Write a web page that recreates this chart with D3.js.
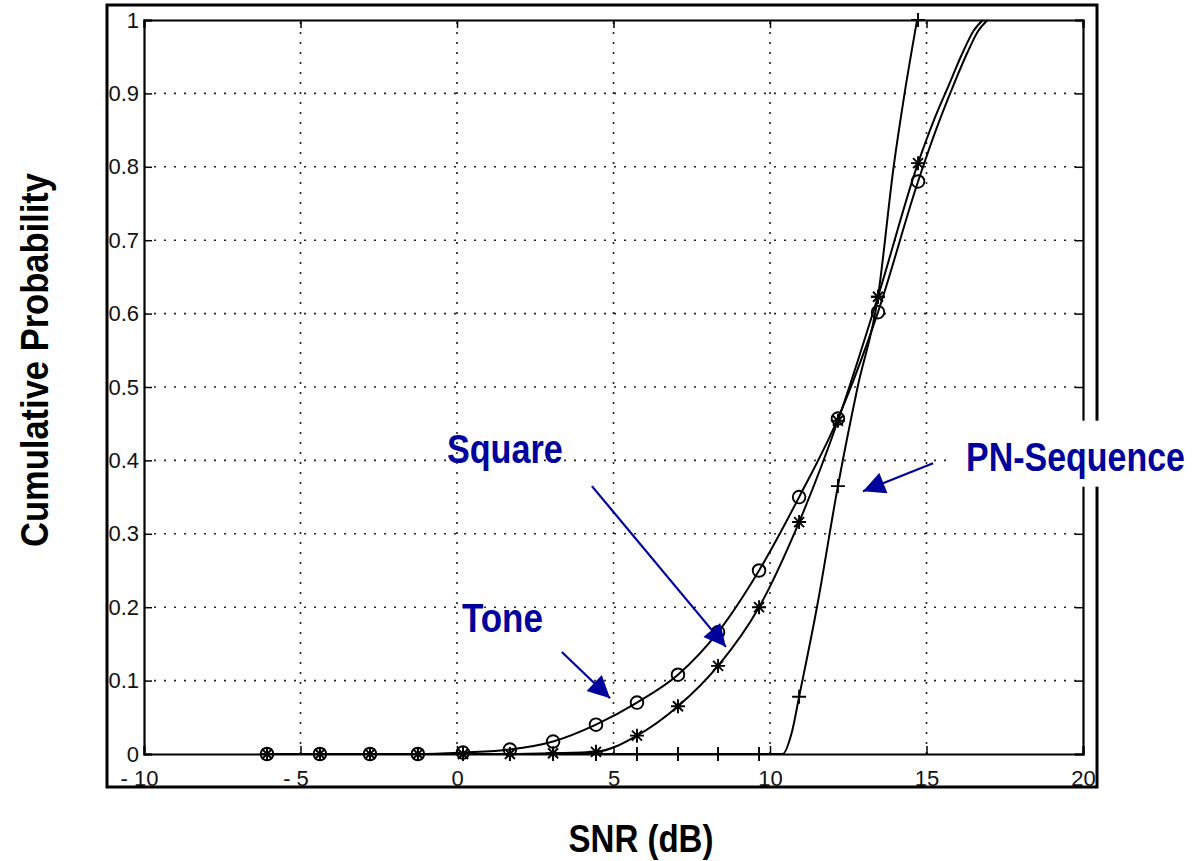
<!DOCTYPE html>
<html><head><meta charset="utf-8">
<script src="https://cdn.jsdelivr.net/npm/d3@7"></script>
<style>
html,body{margin:0;padding:0;background:#fff;}
svg{display:block;}
</style></head>
<body>
<svg id="chart" width="1192" height="861"></svg>
<script>
// ---------- data ----------
const xTicks = [-10, -5, 0, 5, 10, 15, 20];
const xTickLabels = ["- 10", "- 5", "0", "5", "10", "15", "20"];
const yTicks = [0, 0.1, 0.2, 0.3, 0.4, 0.5, 0.6, 0.7, 0.8, 0.9, 1];
const yTickLabels = ["0", "0.1", "0.2", "0.3", "0.4", "0.5", "0.6", "0.7", "0.8", "0.9", "1"];

// marker positions (SNR, dB)
const markerSNR = [-6.07, -4.38, -2.78, -1.25, 0.19, 1.69, 3.07, 4.44, 5.75, 7.06, 8.34, 9.65, 10.93, 12.17, 13.45, 14.73];
const toneMarkerProb   = [0, 0, 0, 0, 0.002, 0.006, 0.017, 0.040, 0.070, 0.108, 0.166, 0.250, 0.350, 0.457, 0.602, 0.780];
const squareMarkerProb = [0, 0, 0, 0, 0, 0, 0.001, 0.003, 0.025, 0.065, 0.120, 0.200, 0.316, 0.454, 0.623, 0.805];
const pnMarkerProb     = [0, 0, 0, 0, 0, 0, 0, 0, 0, 0, 0, 0, 0.078, 0.365, 0.623, 1.0];

// curve points
const toneSNR  = [-6.07, -4.38, -2.78, -1.25, 0.19, 1.69, 3.07, 4.44, 5.75, 7.06, 8.34, 9.65, 10.93, 12.17, 13.45, 14.73, 15.3, 15.85, 16.3, 16.65, 16.95];
const toneProb = [0, 0, 0, 0, 0.002, 0.006, 0.017, 0.040, 0.070, 0.108, 0.166, 0.250, 0.350, 0.457, 0.602, 0.780, 0.85, 0.91, 0.955, 0.985, 1.0];
const squareSNR  = [-6.07, -4.38, -2.78, -1.25, 0.19, 1.69, 3.07, 4.44, 5.75, 7.06, 8.34, 9.65, 10.93, 12.17, 13.45, 14.73, 15.25, 15.7, 16.15, 16.5, 16.8];
const squareProb = [0, 0, 0, 0, 0, 0, 0.001, 0.003, 0.025, 0.065, 0.120, 0.200, 0.316, 0.454, 0.623, 0.805, 0.865, 0.91, 0.955, 0.985, 1.0];
const pnSNR  = [-6.07, -2.78, 1.69, 5.75, 9.65, 10.4, 10.7, 10.93, 11.5, 12.17, 12.8, 13.45, 13.95, 14.3, 14.7];
const pnProb = [0, 0, 0, 0, 0, 0, 0.03, 0.078, 0.2, 0.365, 0.5, 0.623, 0.8, 0.9, 1.0];

// annotations: label, label anchor (SNR, prob), arrow start, arrow tip
const annLabels = ["Square", "Tone", "PN-Sequence"];
const annTextSNR  = [1.53, 1.45, 19.76];
const annTextProb = [0.396, 0.166, 0.386];
const annFromSNR  = [4.31, 3.35, 15.21];
const annFromProb = [0.365, 0.139, 0.396];
const annToSNR    = [8.59, 4.89, 12.97];
const annToProb   = [0.146, 0.076, 0.358];

// ---------- layout ----------
const svg = d3.select("#chart");
const M = {left: 144, right: 1083, top: 20, bottom: 754};
const x = d3.scaleLinear().domain([-10, 20]).range([M.left, M.right]);
const y = d3.scaleLinear().domain([0, 1]).range([M.bottom, M.top]);

const blue = "#00009c";
const narrow = "'Liberation Sans',Arial,Helvetica,sans-serif";

// squeeze a text horizontally (narrow bold look) to a target width
function squeeze(sel, tx, ty, rot, target) {
  const len = sel.node().getComputedTextLength();
  const s = target / len;
  sel.attr("transform", `translate(${tx},${ty}) rotate(${rot}) scale(${s},1)`);
}

// outer frame
svg.append("rect").attr("x", 107).attr("y", 5).attr("width", 990).attr("height", 782)
  .attr("fill", "none").attr("stroke", "#000").attr("stroke-width", 3);

// grid
const grid = svg.append("g").attr("stroke", "#222").attr("stroke-width", 1.6).attr("stroke-dasharray", "2,8");
grid.selectAll("line.gx").data(xTicks.slice(1, -1)).join("line")
  .attr("x1", d => x(d)).attr("x2", d => x(d)).attr("y1", y(0)).attr("y2", y(1));
grid.selectAll("line.gy").data(yTicks.slice(1, -1)).join("line")
  .attr("x1", x(-10)).attr("x2", x(20)).attr("y1", d => y(d)).attr("y2", d => y(d));

// axes
const axFont = "'Liberation Sans',Arial,Helvetica,sans-serif";
const xAxis = svg.append("g").attr("transform", `translate(0,${M.bottom})`)
  .call(d3.axisBottom(x).tickValues(xTicks).tickSize(-8).tickPadding(16)
    .tickFormat((d, i) => xTickLabels[i]));
const yAxis = svg.append("g").attr("transform", `translate(${M.left},0)`)
  .call(d3.axisLeft(y).tickValues(yTicks).tickSize(-8).tickPadding(5)
    .tickFormat((d, i) => yTickLabels[i]));
const xTop = svg.append("g").attr("transform", `translate(0,${M.top})`)
  .call(d3.axisTop(x).tickValues(xTicks).tickSize(-8).tickFormat(""));
const yRight = svg.append("g").attr("transform", `translate(${M.right},0)`)
  .call(d3.axisRight(y).tickValues(yTicks).tickSize(-8).tickFormat(""));
[xAxis, yAxis, xTop, yRight].forEach(g => {
  g.select(".domain").attr("stroke", "#000").attr("stroke-width", 2.2);
  g.selectAll(".tick line").attr("stroke", "#000").attr("stroke-width", 1.5);
  g.selectAll("text").attr("font-family", axFont).attr("font-size", 22).attr("fill", "#111");
});
xAxis.selectAll("text").attr("dy", "0.71em").attr("dx", d => d < 0 ? -5 : 0);

// curves
const line = d3.line().x(d => x(d[0])).y(d => y(d[1])).curve(d3.curveMonotoneX);
const curves = [
  d3.zip(toneSNR, toneProb),
  d3.zip(squareSNR, squareProb),
  d3.zip(pnSNR, pnProb)
];
svg.append("g").selectAll("path").data(curves).join("path")
  .attr("d", line).attr("fill", "none").attr("stroke", "#000").attr("stroke-width", 2);

// markers
const mk = svg.append("g").attr("fill", "none").attr("stroke", "#000").attr("stroke-width", 1.9);
mk.selectAll("circle").data(d3.zip(markerSNR, toneMarkerProb)).join("circle")
  .attr("cx", d => x(d[0])).attr("cy", d => y(d[1])).attr("r", 6.3);
const star = "M-7,0L7,0M0,-7L0,7M-5,-5L5,5M-5,5L5,-5";
mk.selectAll("path.star").data(d3.zip(markerSNR, squareMarkerProb)).join("path").attr("class", "star")
  .attr("d", star).attr("transform", d => `translate(${x(d[0])},${y(d[1])})`);
const plus = "M-7,0L7,0M0,-7L0,7";
mk.selectAll("path.plus").data(d3.zip(markerSNR, pnMarkerProb)).join("path").attr("class", "plus")
  .attr("d", plus).attr("transform", d => `translate(${x(d[0])},${y(d[1])})`);

// annotations
const defs = svg.append("defs");
defs.append("marker").attr("id", "ah").attr("viewBox", "0 0 10 10")
  .attr("refX", 10).attr("refY", 5).attr("markerWidth", 24).attr("markerHeight", 22)
  .attr("markerUnits", "userSpaceOnUse").attr("orient", "auto")
  .append("path").attr("d", "M0,0L10,5L0,10Z").attr("fill", blue);

const annLen = [116, 81, 219];
const ann = d3.range(annLabels.length).map(i => ({
  label: annLabels[i], tx: annTextSNR[i], ty: annTextProb[i],
  fx: annFromSNR[i], fy: annFromProb[i], ex: annToSNR[i], ey: annToProb[i], w: annLen[i]
}));
svg.append("g").selectAll("line").data(ann).join("line")
  .attr("x1", d => x(d.fx)).attr("y1", d => y(d.fy))
  .attr("x2", d => x(d.ex)).attr("y2", d => y(d.ey))
  .attr("stroke", blue).attr("stroke-width", 2.2).attr("marker-end", "url(#ah)");

// white box behind the PN-Sequence label (it sits over the frame)
const pnBoxX = x(annTextSNR[2]) - annLen[2] / 2 - 20;
svg.append("rect").attr("x", pnBoxX).attr("y", y(annTextProb[2]) - 50)
  .attr("width", 1192 - pnBoxX).attr("height", 66).attr("fill", "#fff");

svg.append("g").selectAll("text").data(ann).join("text")
  .attr("text-anchor", "middle").attr("font-family", narrow).attr("font-weight", "bold")
  .attr("font-size", 40).attr("fill", blue)
  .text(d => d.label)
  .each(function(d) { squeeze(d3.select(this), x(d.tx), y(d.ty), 0, d.w); });

// axis titles
const xt = svg.append("text").attr("text-anchor", "middle")
  .attr("font-family", narrow).attr("font-weight", "bold").attr("font-size", 38)
  .text("SNR (dB)");
squeeze(xt, 641, 852, 0, 145);
const yt = svg.append("text").attr("text-anchor", "middle")
  .attr("font-family", narrow).attr("font-weight", "bold").attr("font-size", 38)
  .text("Cumulative Probability");
squeeze(yt, 48, 360, -90, 374);
</script>
</body></html>
